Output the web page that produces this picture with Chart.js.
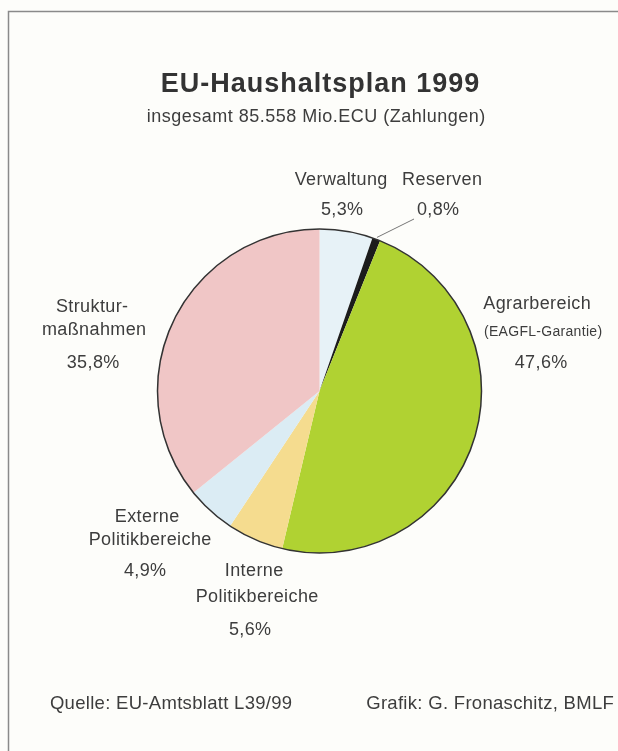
<!DOCTYPE html>
<html><head><meta charset="utf-8">
<script src="https://cdn.jsdelivr.net/npm/chart.js@4"></script>
<style>html,body{margin:0;padding:0;background:#fdfdfa;overflow:hidden}#wrap{width:618px;height:751px;position:relative}</style>
</head><body><div id="wrap"><canvas id="c" width="618" height="751"></canvas></div>
<script>
// ---- data ----
const categories = ["Verwaltung", "Reserven", "Agrarbereich (EAGFL-Garantie)", "Interne Politikbereiche", "Externe Politikbereiche", "Strukturmaßnahmen"];
const shares = [5.3, 0.8, 47.6, 5.6, 4.9, 35.8];
const labelLines = [["Verwaltung"], ["Reserven"], ["Agrarbereich", "(EAGFL-Garantie)"], ["Interne", "Politikbereiche"], ["Externe", "Politikbereiche"], ["Struktur-", "maßnahmen"]];
const titleText = "EU-Haushaltsplan 1999";
const subtitleText = "insgesamt 85.558 Mio.ECU (Zahlungen)";
const sourceText = "Quelle: EU-Amtsblatt L39/99";
const creditText = "Grafik: G. Fronaschitz, BMLF";

// ---- styles / layout ----
const sliceColors = ["#e7f2f7", "#1c1c1c", "#b0d232", "#f5dc8f", "#dbecf4", "#f0c6c6"];
const FONT = "'Liberation Sans', Arial, sans-serif";
const TEXT = "#3d3d3d";
const labelLayout = [
  {lines: [[341, 185]], pct: [342, 215]},
  {lines: [[442, 185]], pct: [438, 215]},
  {lines: [[537, 309], [543, 336]], pct: [541, 368], small: 1},
  {lines: [[254, 576], [257, 602]], pct: [250, 635]},
  {lines: [[147, 522], [150, 545]], pct: [145, 576]},
  {lines: [[92, 312], [94, 335]], pct: [93, 368]}
];

function fmtPct(v) { return v.toFixed(1).replace('.', ',') + '%'; }

function drawText(ctx, txt, x, y, font, color, spacing) {
  ctx.save();
  ctx.font = font;
  ctx.fillStyle = color;
  ctx.textAlign = 'center';
  ctx.textBaseline = 'alphabetic';
  ctx.letterSpacing = spacing + 'px';
  ctx.fillText(txt, x + spacing / 2, y);
  ctx.restore();
}

const decor = {
  id: 'decor',
  beforeDraw(chart) {
    const ctx = chart.ctx;
    ctx.save();
    ctx.fillStyle = '#fdfdfa';
    ctx.fillRect(0, 0, chart.width, chart.height);
    ctx.strokeStyle = '#8a8a8a';
    ctx.lineWidth = 1.5;
    ctx.beginPath();
    ctx.moveTo(8.5, chart.height);
    ctx.lineTo(8.5, 11.5);
    ctx.lineTo(chart.width, 11.5);
    ctx.stroke();
    ctx.restore();
  },
  afterDatasetsDraw(chart) {
    const ctx = chart.ctx;
    const meta = chart.getDatasetMeta(0);
    const a0 = meta.data[0];
    ctx.save();
    ctx.strokeStyle = '#333';
    ctx.lineWidth = 1.5;
    ctx.beginPath();
    ctx.arc(a0.x, a0.y, a0.outerRadius, 0, Math.PI * 2);
    ctx.stroke();
    const r = meta.data[1];
    const mid = (r.startAngle + r.endAngle) / 2;
    ctx.strokeStyle = '#777';
    ctx.lineWidth = 1;
    ctx.beginPath();
    ctx.moveTo(r.x + Math.cos(mid) * (r.outerRadius + 2), r.y + Math.sin(mid) * (r.outerRadius + 2));
    ctx.lineTo(414, 219);
    ctx.stroke();
    ctx.restore();

    drawText(ctx, titleText, 320, 92, "bold 27px " + FONT, "#333", 1.0);
    drawText(ctx, subtitleText, 316, 122, "18px " + FONT, TEXT, 0.5);
    labelLines.forEach((lines, i) => {
      const L = labelLayout[i];
      lines.forEach((t, j) => {
        const small = L.small && j === 1;
        drawText(ctx, t, L.lines[j][0], L.lines[j][1], (small ? "14px " : "18px ") + FONT, TEXT, small ? 0.3 : 0.4);
      });
      drawText(ctx, fmtPct(shares[i]), L.pct[0], L.pct[1], "18px " + FONT, TEXT, 0.4);
    });
    drawText(ctx, sourceText, 171, 709, "18.5px " + FONT, TEXT, 0.3);
    drawText(ctx, creditText, 490, 709, "18.5px " + FONT, TEXT, 0.3);
  }
};

new Chart(document.getElementById('c'), {
  type: 'pie',
  data: {
    labels: categories,
    datasets: [{data: shares, backgroundColor: sliceColors, borderWidth: 0}]
  },
  options: {
    responsive: false,
    animation: false,
    layout: {padding: {left: 157, right: 136, top: 229, bottom: 198}},
    plugins: {legend: {display: false}, tooltip: {enabled: false}, title: {display: false}}
  },
  plugins: [decor]
});
</script></body></html>
